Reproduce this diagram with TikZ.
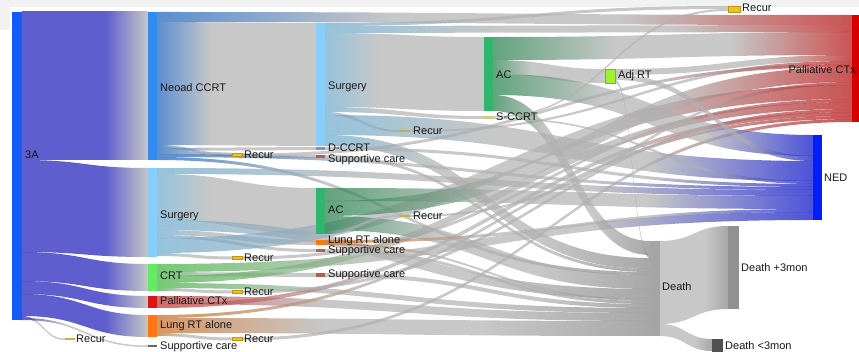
\documentclass[tikz,border=0pt]{standalone}
\usepackage{fontspec}
\setmainfont{Liberation Sans}
\usepackage{tikz}
\usetikzlibrary{calc}
\definecolor{bgband}{RGB}{242,242,242}
\definecolor{labtext}{RGB}{25,25,25}
% bar colours
\definecolor{cthreeA}{RGB}{20,90,245}
\definecolor{cneo}{RGB}{50,140,240}
\definecolor{csur}{RGB}{135,206,250}
\definecolor{ccrt}{RGB}{100,235,100}
\definecolor{cpal}{RGB}{220,20,20}
\definecolor{clung}{RGB}{255,120,20}
\definecolor{csup}{RGB}{180,95,80}
\definecolor{crec}{RGB}{235,195,40}
\definecolor{crecd}{RGB}{190,150,20}
\definecolor{colive}{RGB}{190,180,70}
\definecolor{cdcc}{RGB}{140,140,200}
\definecolor{cac}{RGB}{50,180,110}
\definecolor{cadj}{RGB}{160,240,50}
\definecolor{cadjd}{RGB}{110,190,30}
\definecolor{cdth}{RGB}{165,165,165}
\definecolor{cdthp}{RGB}{145,145,145}
\definecolor{cdthm}{RGB}{80,80,80}
\definecolor{cned}{RGB}{0,30,255}
\definecolor{cpalb}{RGB}{215,0,0}
% ribbon colours (drawn at 0.7 opacity)
\definecolor{fthreeA}{RGB}{25,25,185}
\definecolor{fneo}{RGB}{21,95,188}
\definecolor{fsur}{RGB}{105,169,205}
\definecolor{fcrt}{RGB}{62,176,62}
\definecolor{fpal}{RGB}{191,48,48}
\definecolor{flung}{RGB}{198,105,34}
\definecolor{fac}{RGB}{30,125,70}
\definecolor{flmid}{RGB}{176,176,176}
\definecolor{fdth}{RGB}{130,130,130}
\definecolor{fpalT}{RGB}{180,10,10}
\definecolor{fnedT}{RGB}{0,10,200}
\colorlet{flL}{white}\colorlet{flM}{white}\colorlet{flR}{white}
\pgfdeclarehorizontalshading[flL,flM,flR]{ribshade}{100bp}{color(0bp)=(flL);
  color(25bp)=(flL); color(42bp)=(flM); color(58bp)=(flM); color(75bp)=(flR); color(100bp)=(flR)}
\tikzset{
  ribbon/.style={shading=ribshade, fill opacity=0.7},
  lab/.style={font=\fontsize{11}{13}\selectfont, text=labtext, anchor=west, inner sep=0pt},
  labr/.style={lab, anchor=east},
  recbox/.style={fill=crec, draw=crecd, line width=0.4pt},
}
% ribbon: [middle colour] x1, top1, bottom1, x2, top2, bottom2, left colour, right colour
\newcommand{\flow}[9][flmid]{%
  \colorlet{flL}{#8}\colorlet{flM}{#1}\colorlet{flR}{#9}%
  \pgfmathsetmacro{\flowmid}{(#2+#5)/2}%
  \shade[ribbon] (#2,#3) .. controls (\flowmid,#3) and (\flowmid,#6) .. (#5,#6)
    -- (#5,#7) .. controls (\flowmid,#7) and (\flowmid,#4) .. (#2,#4) -- cycle;}

\begin{document}
\begin{tikzpicture}[x=1pt,y=-1pt]
\useasboundingbox (0,0) rectangle (859,352);
\fill[bgband] (0,0) rectangle (859,7);
\fill[bgband] (0,0) rectangle (10,30);

% 3A
\flow[fthreeA]{22}{12}{160}{148}{12}{160}{fthreeA}{flmid}
\flow[fthreeA]{22}{160}{252}{148}{168}{257}{fthreeA}{flmid}
\flow[fthreeA]{22}{252}{281}{148}{264}{291}{fthreeA}{flmid}
\flow[fthreeA]{22}{281}{294}{148}{296}{308}{fthreeA}{flmid}
\flow[fthreeA]{22}{294}{316}{148}{315}{337}{fthreeA}{flmid}
\flow{22}{316}{318}{65}{338.5}{340}{fthreeA}{flmid}
\flow{22}{318}{320}{148}{345.5}{347}{fthreeA}{flmid}
% Neoad CCRT
\flow{157}{12}{22}{852}{15}{25}{fneo}{fpalT}
\flow{157}{22}{145}{316}{23}{146}{fneo}{flmid}
\flow{157}{145}{148}{232}{153.5}{156.5}{fneo}{flmid}
\flow{157}{148}{151}{316}{147}{150}{fneo}{flmid}
\flow{157}{151}{154}{316}{155}{158}{fneo}{flmid}
\flow{157}{154}{157}{813}{187}{190}{fneo}{fnedT}
\flow{157}{157}{160}{650}{272}{275}{fneo}{fdth}
% Surgery
\flow{157}{168}{174}{813}{190}{196}{fsur}{fnedT}
\flow{157}{174}{220}{316}{188}{234}{fsur}{flmid}
\flow{157}{220}{230}{650}{289}{299}{fsur}{fdth}
\flow{157}{230}{235}{316}{240}{245}{fsur}{flmid}
\flow{157}{235}{238}{316}{249}{252}{fsur}{flmid}
\flow{157}{238}{253}{852}{85}{99}{fsur}{fpalT}
\flow{157}{253}{256}{232}{256.5}{259.5}{fsur}{flmid}
% CRT
\flow{157}{264}{272}{813}{212}{220}{fcrt}{fnedT}
\flow{157}{272}{276}{316}{273}{277}{fcrt}{flmid}
\flow{157}{276}{283}{852}{102}{109}{fcrt}{fpalT}
\flow{157}{283}{288}{650}{308}{313}{fcrt}{fdth}
\flow{157}{288}{291}{232}{290.5}{293.5}{fcrt}{flmid}
% Palliative CTx, Lung RT alone
\flow{157}{296}{304}{650}{313}{321}{fpal}{fdth}
\flow{157}{304}{308}{852}{112}{116}{fpal}{fpalT}
\flow{157}{315}{318}{852}{116}{119}{flung}{fpalT}
\flow{157}{318}{333}{650}{321}{336}{flung}{fdth}
\flow{157}{333}{336}{232}{337.5}{340.5}{flung}{flmid}
% Recur (second column)
\flow{242}{153.5}{156.5}{852}{64}{67}{flmid}{fpalT}
\flow{242}{256.5}{259.5}{852}{99}{102}{flmid}{fpalT}
\flow{242}{290.5}{293.5}{852}{109}{112}{flmid}{fpalT}
\flow{242}{337.5}{340.5}{852}{119}{122}{flmid}{fpalT}
% Surgery after Neoad CCRT
\flow{325}{23}{26}{728}{6}{9}{fsur}{flmid}
\flow{325}{26}{33}{852}{25}{32}{fsur}{fpalT}
\flow{325}{33}{107}{484}{37}{111}{fsur}{flmid}
\flow{325}{107}{112}{484}{116}{119}{fsur}{flmid}
\flow{325}{112}{115}{400}{130}{132}{fsur}{flmid}
\flow{325}{115}{135}{813}{161}{181}{fsur}{fnedT}
\flow{325}{135}{146}{650}{258}{269}{fsur}{fdth}
\flow{325}{147}{150}{813}{184}{187}{flmid}{fnedT}
\flow{325}{155}{158}{650}{269}{272}{flmid}{fdth}
% AC after Surgery
\flow{325}{188}{201}{813}{196}{209}{fac}{fnedT}
\flow{325}{201}{216}{852}{67}{82}{fac}{fpalT}
\flow{325}{216}{230}{650}{275}{289}{fac}{fdth}
\flow{325}{230}{234}{400}{215}{217}{fac}{flmid}
\flow{325}{240}{243}{813}{209}{212}{flung}{fnedT}
\flow{325}{243}{245}{650}{299}{301}{flung}{fdth}
\flow{325}{249}{252}{650}{301}{304}{flmid}{fdth}
\flow{325}{273}{277}{650}{304}{308}{flmid}{fdth}
\flow{410}{130}{132}{852}{61}{64}{flmid}{fpalT}
\flow{410}{215}{217}{852}{82}{85}{flmid}{fpalT}
% AC, S-CCRT, Adj RT
\flow{493}{37}{60}{852}{32}{55}{fac}{fpalT}
\flow{493}{60}{74}{605}{69}{83}{fac}{flmid}
\flow{493}{74}{95}{813}{135}{156}{fac}{fnedT}
\flow{493}{95}{111}{650}{241}{255}{fac}{fdth}
\flow{493}{116}{117.5}{728}{9}{11}{flmid}{flmid}
\flow{493}{117.5}{119}{813}{181}{184}{flmid}{fnedT}
\flow{615}{69}{75}{852}{55}{61}{flmid}{fpalT}
\flow{615}{75}{80}{813}{156}{161}{flmid}{fnedT}
\flow{615}{80}{83}{650}{255}{258}{flmid}{fdth}
% Death
\flow{660}{241}{324}{728}{226}{309}{flmid}{fdth}
\flow{660}{324}{336}{712}{339}{351}{flmid}{fdth}

% bars
\fill[cthreeA] (12,12) rectangle (22,320);
\fill[cneo] (148,12) rectangle (157,160);
\fill[csur] (148,168) rectangle (157,257);
\fill[ccrt] (148,264) rectangle (157,291);
\fill[cpal] (148,296) rectangle (157,308);
\fill[clung] (148,315) rectangle (157,337);
\fill[black!60] (148,345.5) rectangle (157,347);
\fill[colive] (65,338.5) rectangle (75,340);
\foreach \y in {153.5,256.5,290.5,337.5}
  \filldraw[recbox] (232,\y) rectangle (242,\y+3);
\fill[csur] (316,23) rectangle (325,146);
\fill[cdcc] (316,147) rectangle (325,150);
\fill[csup] (316,155) rectangle (325,158);
\fill[cac] (316,188) rectangle (325,234);
\fill[clung] (316,240) rectangle (325,245);
\fill[csup] (316,249) rectangle (325,252);
\fill[csup] (316,273) rectangle (325,277);
\fill[colive] (400,130) rectangle (410,132);
\fill[colive] (400,215) rectangle (410,217);
\fill[cac] (484,37) rectangle (493,111);
\fill[colive!70] (484,116) rectangle (493,119);
\filldraw[fill=cadj, draw=cadjd, line width=0.4pt] (605,69) rectangle (615,83);
\filldraw[recbox] (728,6) rectangle (740,12);
\fill[cdth] (650,241) rectangle (660,336);
\fill[cdthp] (728,226) rectangle (739,309);
\fill[cdthm] (712,339) rectangle (723,352);
\fill[cned] (813,135) rectangle (822,220);
\fill[cpalb] (852,15) rectangle (859,122);

% labels
\node[lab] (lthreeA) at (25,155) {3A};
\node[lab] (lneo) at (160,88) {Neoad CCRT};
\node[lab] (lsurA) at (160,216) {Surgery};
\node[lab] (lcrt) at (160,276) {CRT};
\node[lab] (lpalA) at (160,301) {Palliative CTx};
\node[lab] (llungA) at (160,326) {Lung RT alone};
\node[lab] (lsupA) at (160,347) {Supportive care};
\node[lab] (lrecZ) at (76,339) {Recur};
\node[lab] (lrecA) at (244,155) {Recur};
\node[lab] (lrecB) at (244,258) {Recur};
\node[lab] (lrecC) at (244,292) {Recur};
\node[lab] (lrecD) at (244,339) {Recur};
\node[lab] (lsurB) at (328,87) {Surgery};
\node[lab] (ldcc) at (328,148) {D-CCRT};
\node[lab] (lsupB) at (328,160) {Supportive care};
\node[lab] (lacA) at (328,210) {AC};
\node[lab] (llungB) at (328,240.5) {Lung RT alone};
\node[lab] (lsupC) at (328,250.5) {Supportive care};
\node[lab] (lsupD) at (328,275) {Supportive care};
\node[lab] (lrecE) at (413,131) {Recur};
\node[lab] (lrecF) at (413,216) {Recur};
\node[lab] (lacB) at (496,75) {AC};
\node[lab] (lscc) at (496,117) {S-CCRT};
\node[lab] (ladj) at (618,76) {Adj RT};
\node[lab] (lrecG) at (742,8) {Recur};
\node[labr] (lpalB) at (856,70) {Palliative CTx};
\node[lab] (lned) at (824,178) {NED};
\node[lab] (ldeath) at (662,287) {Death};
\node[lab] (ldthp) at (741,268) {Death +3mon};
\node[lab] (ldthm) at (725,346) {Death <3mon};
\end{tikzpicture}
\end{document}
